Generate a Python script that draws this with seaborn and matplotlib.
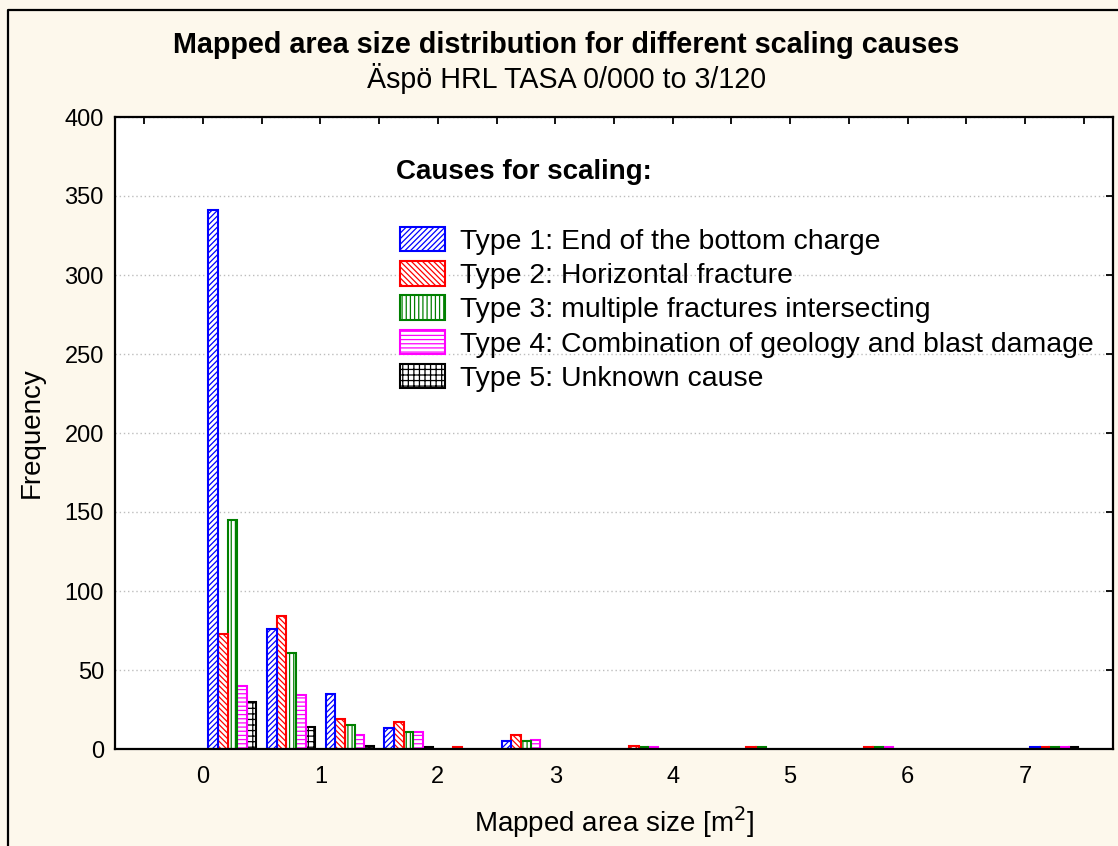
import numpy as np
import pandas as pd
import matplotlib
matplotlib.use("Agg")
import matplotlib.pyplot as plt
import seaborn as sns
from matplotlib.patches import Patch
from matplotlib.lines import Line2D

# ---------------- data ----------------
bin_edges = [0.0, 0.5, 1.0, 1.5, 2.0, 2.5, 3.0, 3.5, 4.0, 4.5, 5.0, 5.5, 6.0, 6.5, 7.0, 7.5]
type1 = [341, 76, 35, 13, 0, 5, 0, 0, 0, 0, 0, 0, 0, 0, 1]
type2 = [73, 84, 19, 17, 1, 9, 0, 2, 0, 1, 0, 1, 0, 0, 1]
type3 = [145, 61, 15, 11, 0, 5, 0, 1, 0, 1, 0, 1, 0, 0, 1]
type4 = [40, 34, 9, 11, 0, 6, 0, 1, 0, 0, 0, 1, 0, 0, 1]
type5 = [30, 14, 2, 1, 0, 0, 0, 0, 0, 0, 0, 0, 0, 0, 1]
series_labels = [
    "Type 1: End of the bottom charge",
    "Type 2: Horizontal fracture",
    "Type 3: multiple fractures intersecting",
    "Type 4: Combination of geology and blast damage",
    "Type 5: Unknown cause",
]
x_tick_labels = [0, 1, 2, 3, 4, 5, 6, 7]
y_tick_labels = [0, 50, 100, 150, 200, 250, 300, 350, 400]

colors = ["#0000ff", "#ff0000", "#008000", "#ff00ff", "#000000"]
hatches = ["//////", "\\\\\\\\\\\\", "||||", "----", "+++"]

# ---------------- style ----------------
sns.set_style("white")
plt.rcParams["font.family"] = ["Liberation Sans", "DejaVu Sans"]
plt.rcParams["hatch.linewidth"] = 0.9
plt.rcParams["text.color"] = "black"
plt.rcParams["axes.labelcolor"] = "black"
plt.rcParams["xtick.color"] = "black"
plt.rcParams["ytick.color"] = "black"

rows = []
for lab, vals in zip(series_labels, [type1, type2, type3, type4, type5]):
    for i, v in enumerate(vals):
        rows.append({"size": (bin_edges[i] + bin_edges[i + 1]) / 2, "count": v, "cause": lab})
df = pd.DataFrame(rows)

W, H = 1118, 846
fig = plt.figure(figsize=(W / 100, H / 100), dpi=100, facecolor="#fdf8ec")
ax = fig.add_axes([115 / W, 1 - 749 / H, 998 / W, 632 / H])
ax.set_facecolor("white")

shrink = 0.82
sns.histplot(data=df, x="size", weights="count", hue="cause", hue_order=series_labels,
             multiple="dodge", bins=bin_edges, shrink=shrink, palette=colors,
             legend=False, ax=ax, element="bars", fill=True)

binw = bin_edges[1] - bin_edges[0]
for p in ax.patches:
    x = p.get_x()
    w = p.get_width()
    c = x + w / 2
    bi = int((c - bin_edges[0]) // binw)
    left = bin_edges[0] + bi * binw + binw * (1 - shrink) / 2
    k = int(min(4, max(0, (c - left) // w)))
    p.set_alpha(None)
    p.set_facecolor("white")
    p.set_edgecolor(colors[k])
    p.set_hatch(hatches[k])
    p.set_linewidth(1.5)
    if p.get_height() <= 0:
        p.set_visible(False)

ax.set_xlim(-0.75, 7.75)
ax.set_ylim(0, 400)
ax.set_xticks(x_tick_labels)
ax.set_xticklabels([str(v) for v in x_tick_labels])
ax.set_xticks(np.arange(-0.5, 7.6, 1.0), minor=True)
ax.set_yticks(y_tick_labels)
ax.set_yticklabels([str(v) for v in y_tick_labels])
ax.tick_params(which="both", direction="in", length=5, width=1.3, top=True, right=True,
               colors="black")
ax.tick_params(axis="x", which="major", labelsize=17, pad=12)
ax.tick_params(axis="y", which="major", labelsize=17, pad=8)
for s in ax.spines.values():
    s.set_visible(True)
    s.set_linewidth(1.6)
    s.set_color("black")

ax.set_axisbelow(True)
ax.yaxis.grid(True, linestyle=(0, (1, 2)), color="#bdbdbd", linewidth=1.0)
ax.xaxis.grid(False)

ax.set_xlabel("Mapped area size [m$^2$]", fontsize=20)
ax.xaxis.set_label_coords(0.5, (749 - 822) / 632)
ax.xaxis.label.set_va("center")
ax.set_ylabel("Frequency", fontsize=20)
ax.yaxis.set_label_coords((32 - 115) / 998, 0.5)
ax.yaxis.label.set_va("center")
ax.yaxis.label.set_ha("center")

fig.text(566 / W, 1 - 45 / H, "Mapped area size distribution for different scaling causes",
         ha="center", va="center", fontsize=20.7, fontweight="bold")
fig.text(567 / W, 1 - 78 / H, "Äspö HRL TASA 0/000 to 3/120",
         ha="center", va="center", fontsize=20.6)

ax.text((396 - 115) / 998, (749 - 172) / 632, "Causes for scaling:", transform=ax.transAxes,
        ha="left", va="center", fontsize=20, fontweight="bold")

handles = [Patch(facecolor="white", edgecolor=c, hatch=h, linewidth=1.5, label=l)
           for c, h, l in zip(colors, hatches, series_labels)]
ax.legend(handles=handles, loc="upper left",
          bbox_to_anchor=((400 - 115) / 998, (749 - 227) / 632),
          frameon=False, fontsize=20.4, borderpad=0, borderaxespad=0,
          handlelength=1.6, handleheight=0.95, handletextpad=0.5, labelspacing=0.22)

fig.add_artist(Line2D([8 / W, 8 / W, 1.05], [-0.05, 1 - 10 / H, 1 - 10 / H],
                      color="black", linewidth=1.6, transform=fig.transFigure))

fig.savefig("out.png", dpi=100, facecolor=fig.get_facecolor())
